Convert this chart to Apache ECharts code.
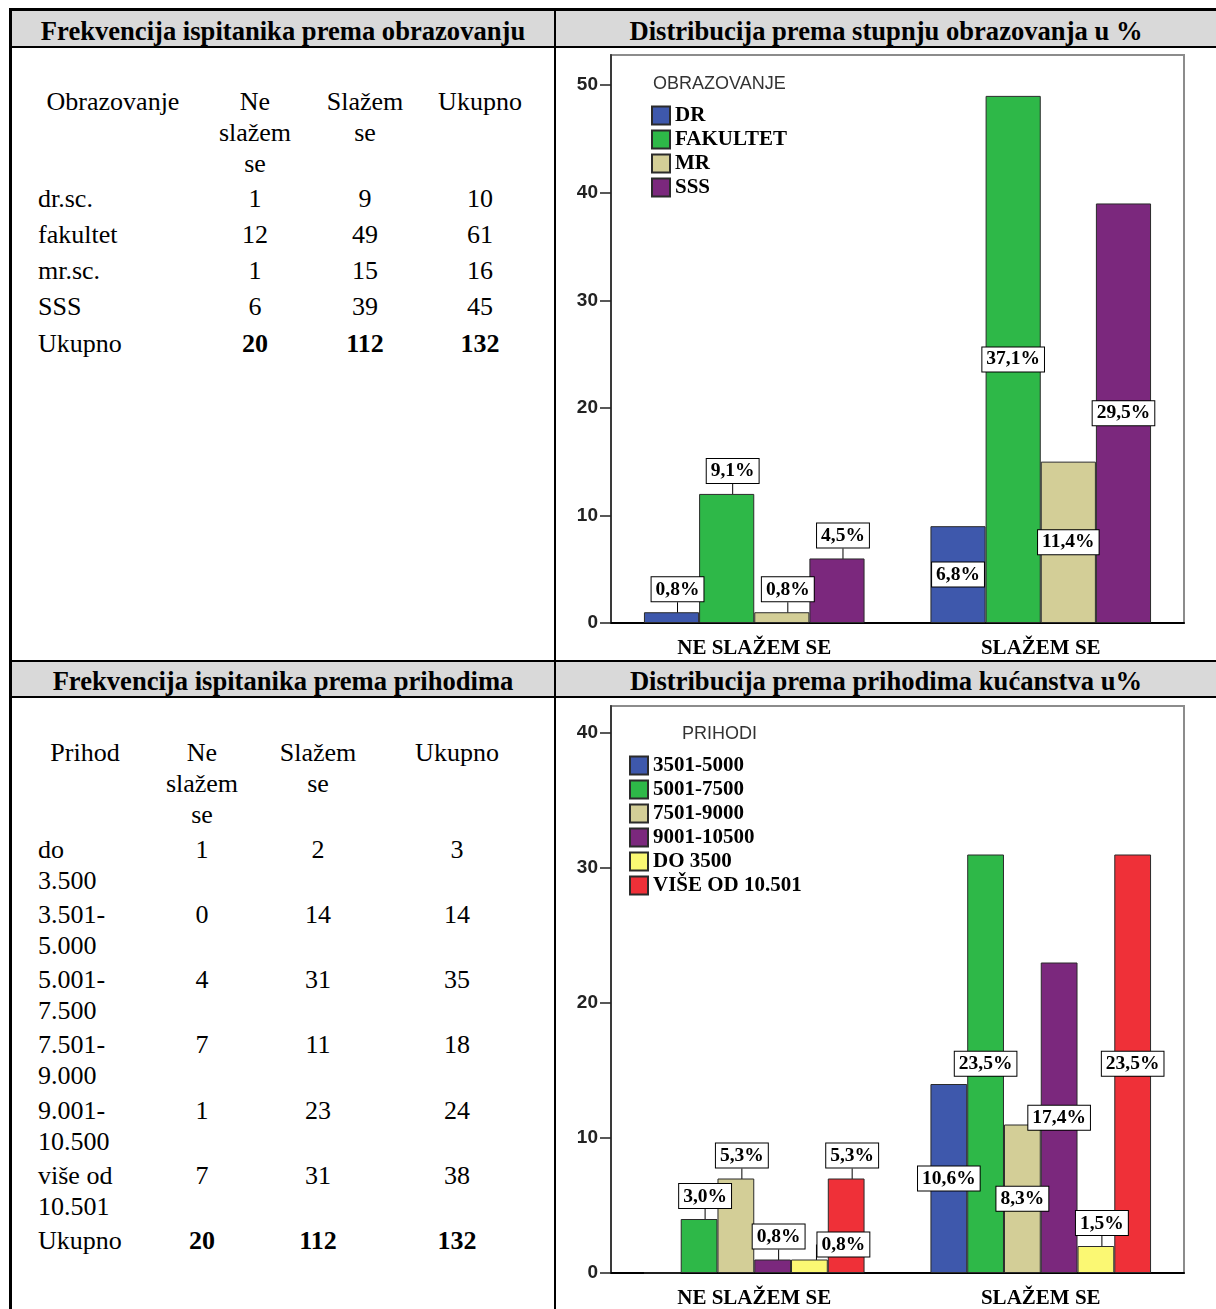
<!DOCTYPE html>
<html>
<head>
<meta charset="utf-8">
<script src="https://cdn.jsdelivr.net/npm/echarts@6.0.0/dist/echarts.min.js"></script>
<style>
  html, body { margin: 0; padding: 0; background: #fff; }
  body { width: 1216px; height: 1309px; position: relative; overflow: hidden;
    font-family: 'Liberation Serif', 'Times New Roman', serif; color: #000; }
  .line { position: absolute; background: #000; }
  .head { position: absolute; background: #d9d9d9; }
  .htxt { position: absolute; font-weight: bold; font-size: 26.6px; line-height: 35px;
    text-align: center; white-space: nowrap; }
  .cell { position: absolute; font-size: 26px; line-height: 31px; }
  .chart { position: absolute; }
</style>
</head>
<body>
<div class="head" style="left:12px;top:11px;width:1204px;height:35px"></div>
<div class="head" style="left:12px;top:662px;width:1204px;height:34px"></div>
<div class="line" style="left:9px;top:8px;width:1207px;height:3px"></div>
<div class="line" style="left:9px;top:8px;width:3px;height:1301px"></div>
<div class="line" style="left:12px;top:46px;width:1204px;height:2px"></div>
<div class="line" style="left:12px;top:660px;width:1204px;height:2px"></div>
<div class="line" style="left:12px;top:696px;width:1204px;height:2px"></div>
<div class="line" style="left:554px;top:11px;width:2px;height:1298px"></div>

<div class="htxt" style="left:12px;top:14px;width:542px">Frekvencija ispitanika prema obrazovanju</div>
<div class="htxt" style="left:556px;top:14px;width:660px">Distribucija prema stupnju obrazovanja u %</div>
<div class="htxt" style="left:12px;top:664px;width:542px">Frekvencija ispitanika prema prihodima</div>
<div class="htxt" style="left:556px;top:664px;width:660px">Distribucija prema prihodima kućanstva u%</div>

<div id="table1"></div>
<div id="table2"></div>
<div id="chart1" class="chart" style="left:556px;top:48px;width:660px;height:612px"></div>
<div id="chart2" class="chart" style="left:556px;top:698px;width:660px;height:611px"></div>

<script>
// table headers
const colHeads = ['Ne slažem se', 'Slažem se', 'Ukupno']

// education table
const eduLabels = ['dr.sc.', 'fakultet', 'mr.sc.', 'SSS']
const eduNe = [1, 12, 1, 6]
const eduSlazem = [9, 49, 15, 39]
const eduUkupno = [10, 61, 16, 45]
const eduTotals = [20, 112, 132]

// income table
const incLabels = ['do 3.500', '3.501-5.000', '5.001-7.500', '7.501-9.000', '9.001-10.500', 'više od 10.501']
const incNe = [1, 0, 4, 7, 1, 7]
const incSlazem = [2, 14, 31, 11, 23, 31]
const incUkupno = [3, 14, 35, 18, 24, 38]
const incTotals = [20, 112, 132]

// charts
const statusCats = ['NE SLAŽEM SE', 'SLAŽEM SE']
const eduSeries = ['DR', 'FAKULTET', 'MR', 'SSS']
const incSeries = ['3501-5000', '5001-7500', '7501-9000', '9001-10500', 'DO 3500', 'VIŠE OD 10.501']
const incSeriesRow = [1, 2, 3, 4, 0, 5] // which table row each chart series comes from
const eduTicks = [0, 10, 20, 30, 40, 50]
const incTicks = [0, 10, 20, 30, 40]

const SERIF = "'Liberation Serif', 'Times New Roman', serif"
const SANS = "'Liberation Sans', Arial, sans-serif"

const eduColors = ['#3e58ac', '#2eb848', '#d3ce97', '#7b287d']
const incColors = ['#3e58ac', '#2eb848', '#d3ce97', '#7b287d', '#fbf873', '#ef3038']

function cellHtml(col, top, text, bold, center) {
  const align = center || col.c !== undefined ? 'center' : 'left'
  const left = col.c !== undefined ? col.c - col.w / 2 : col.l
  return '<div class="cell" style="left:' + left + 'px;top:' + top + 'px;width:' + col.w +
    'px;text-align:' + align + (bold ? ';font-weight:bold' : '') + '">' + text + '</div>'
}

function buildTable(id, cols, headCol, headTitle, headTop, rowTop, pitch, labels, ne, sl, uk, totals) {
  let html = cellHtml(headCol, headTop, headTitle, false, true)
  colHeads.forEach((h, i) => { html += cellHtml(cols[i + 1], headTop, h) })
  labels.forEach((lab, r) => {
    const top = rowTop + r * pitch
    html += cellHtml(cols[0], top, lab.replace('-', '-<wbr>'))
    html += cellHtml(cols[1], top, ne[r])
    html += cellHtml(cols[2], top, sl[r])
    html += cellHtml(cols[3], top, uk[r])
  })
  const top = rowTop + labels.length * pitch
  html += cellHtml(cols[0], top, 'Ukupno')
  totals.forEach((t, i) => { html += cellHtml(cols[i + 1], top, t, true) })
  document.getElementById(id).innerHTML = html
}

buildTable('table1',
  [{ l: 38, w: 150 }, { c: 255, w: 90 }, { c: 365, w: 90 }, { c: 480, w: 100 }],
  { l: 38, w: 150 }, 'Obrazovanje', 86, 182.5, 36.25,
  eduLabels, eduNe, eduSlazem, eduUkupno, eduTotals)

buildTable('table2',
  [{ l: 38, w: 88 }, { c: 202, w: 90 }, { c: 318, w: 90 }, { c: 457, w: 100 }],
  { l: 41, w: 88 }, 'Prihod', 736.5, 833.5, 65.3,
  incLabels, incNe, incSlazem, incUkupno, incTotals)

function labelPlace(v, cat) {
  if (v === 0) return 'none'
  if (cat === 1 && v >= 9) return 'inside'
  return 'top'
}

function makeChart(id, names, colors, neVals, slVals, total, legendTitle, titleLeft, legendLeft, grid, yMax, ticks) {
  const chart = echarts.init(document.getElementById(id))
  const valsOf = i => [neVals[i], slVals[i]]
  // a top label that would sit on its left neighbour's top label is pushed sideways
  const collides = (i, c) => {
    if (i === 0) return false
    const prev = valsOf(i - 1)[c]
    return labelPlace(prev, c) === 'top' && Math.abs(prev - valsOf(i)[c]) < 2
  }
  const series = names.map((name, i) => {
    const vals = valsOf(i)
    return {
      name,
      type: 'bar',
      barGap: '0%',
      barCategoryGap: '23%',
      itemStyle: { color: colors[i], borderColor: '#2b2b2b', borderWidth: 1 },
      label: {
        show: true,
        distance: 3,
        formatter: p => (p.value / total * 100).toFixed(1).replace('.', ',') + '%',
        fontFamily: SERIF,
        fontWeight: 'bold',
        fontSize: 19.5,
        lineHeight: 19,
        color: '#000',
        backgroundColor: '#fff',
        borderColor: '#000',
        borderWidth: 1,
        padding: [3, 4, 2, 4]
      },
      labelLine: { show: false, lineStyle: { color: '#000', width: 1 } },
      labelLayout: p => {
        if (labelPlace(vals[p.dataIndex], p.dataIndex) !== 'top') return {}
        return collides(i, p.dataIndex) ? { dx: 34, dy: 0 } : { dx: 6, dy: -8 }
      },
      data: vals.map((v, c) => {
        const pos = labelPlace(v, c)
        return {
          value: v,
          label: { show: pos !== 'none', position: pos === 'top' ? 'top' : 'inside' },
          labelLine: { show: pos === 'top' }
        }
      })
    }
  })

  chart.setOption({
    animation: false,
    title: {
      text: legendTitle,
      left: titleLeft,
      top: 27,
      padding: 0,
      textStyle: { fontFamily: SANS, fontWeight: 'normal', fontSize: 18, color: '#333' }
    },
    legend: {
      orient: 'vertical',
      left: legendLeft,
      top: 57,
      padding: 0,
      itemWidth: 18,
      itemHeight: 18,
      itemGap: 3,
      icon: 'rect',
      textStyle: { fontFamily: SERIF, fontWeight: 'bold', fontSize: 21, lineHeight: 18, color: '#000' },
      data: names
    },
    grid: Object.assign({
      show: true,
      borderColor: '#8c8c8c',
      borderWidth: 2,
      containLabel: false,
      outerBoundsMode: 'none'
    }, grid),
    xAxis: {
      type: 'category',
      data: statusCats,
      axisLine: { lineStyle: { color: '#000', width: 2 } },
      axisTick: { alignWithLabel: true, length: 12, lineStyle: { color: '#000', width: 1.5 } },
      axisLabel: { margin: 15, fontFamily: SERIF, fontWeight: 'bold', fontSize: 21, color: '#000' }
    },
    yAxis: {
      type: 'value',
      min: 0,
      max: yMax,
      interval: 10,
      axisLine: { show: true, lineStyle: { color: '#3a3a3a', width: 2 } },
      axisTick: { show: true, length: 11, customValues: ticks, lineStyle: { color: '#222', width: 1.5 } },
      axisLabel: { customValues: ticks, margin: 13, fontFamily: SANS, fontWeight: 'bold', fontSize: 19, color: '#222' },
      splitLine: { show: false }
    },
    series
  })
  return chart
}

const eduTotal = eduTotals[2]
makeChart('chart1', eduSeries, eduColors, eduNe, eduSlazem, eduTotal,
  'OBRAZOVANJE', 97, 95, { left: 55, right: 32, top: 7, bottom: 37 }, 52.8, eduTicks)

const incTotal = incTotals[2]
makeChart('chart2', incSeries, incColors,
  incSeriesRow.map(r => incNe[r]), incSeriesRow.map(r => incSlazem[r]), incTotal,
  'PRIHODI', 126, 73, { left: 55, right: 32, top: 8, bottom: 36 }, 42, incTicks)
</script>
</body>
</html>
